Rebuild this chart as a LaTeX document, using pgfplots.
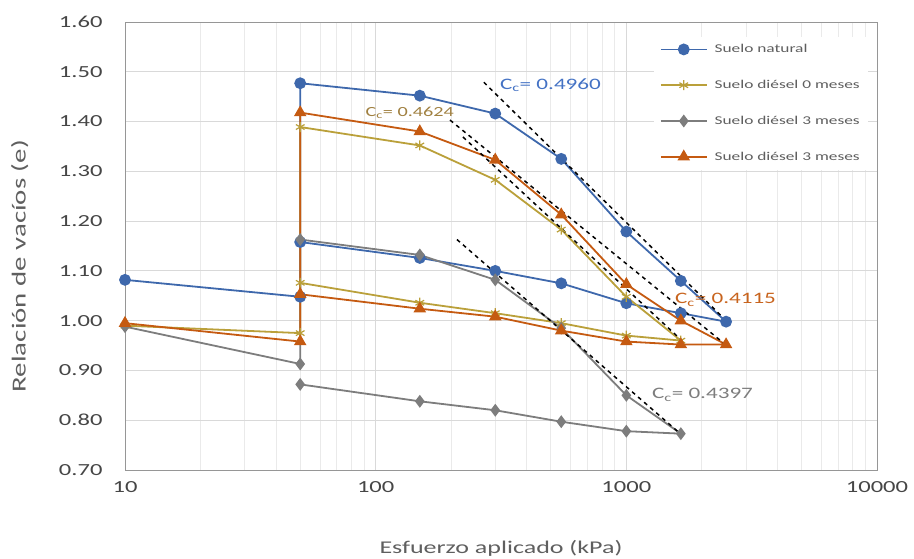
\documentclass[border=0pt]{standalone}
\usepackage{fontspec}
\setmainfont{Carlito}[FakeStretch=1.45]
\usepackage{pgfplots}
\pgfplotsset{compat=1.18}

\definecolor{natural}{RGB}{62,104,172}
\definecolor{dies0}{RGB}{186,160,58}
\definecolor{dies3a}{RGB}{125,125,125}
\definecolor{dies3b}{RGB}{197,90,17}
\definecolor{gridmaj}{RGB}{217,217,217}
\definecolor{gridmin}{RGB}{234,234,234}
\definecolor{axisgray}{RGB}{150,150,150}
\definecolor{labgray}{RGB}{95,95,95}
\definecolor{ticktext}{RGB}{70,70,70}
\definecolor{ccnat}{RGB}{68,114,196}
\definecolor{cc0}{RGB}{160,128,64}
\definecolor{cc3b}{RGB}{200,100,30}

\begin{document}
\begin{tikzpicture}
\useasboundingbox (-125bp,-89bp) rectangle (789bp,470bp);
\begin{axis}[
  scale only axis, width=752bp, height=448bp,
  xmode=log, xmin=10, xmax=10000, ymin=0.7, ymax=1.6,
  xtick={10,100,1000,10000}, xticklabels={10,100,1000,10000},
  minor xtick={20,30,40,50,60,70,80,90,200,300,400,500,600,700,800,900,2000,3000,4000,5000,6000,7000,8000,9000},
  ytick={0.7,0.8,0.9,1.0,1.1,1.2,1.3,1.4,1.5,1.6},
  yticklabels={0.70,0.80,0.90,1.00,1.10,1.20,1.30,1.40,1.50,1.60},
  grid=both,
  major grid style={gridmaj, line width=0.8bp},
  minor grid style={gridmin, line width=0.8bp},
  major tick length=0pt, minor tick length=0pt,
  axis line style={axisgray, line width=0.9bp},
  tick label style={font=\fontsize{17}{20}\selectfont, text=ticktext},
  xticklabel style={yshift=-8bp},
  yticklabel style={xshift=-19bp},
  xlabel={Esfuerzo aplicado (kPa)},
  ylabel={Relación de vacíos (e)},
  label style={font=\fontsize{18}{21}\selectfont, text=labgray},
  xlabel style={at={(axis description cs:0.5,-0.174)}, anchor=center},
  ylabel style={at={(axis description cs:-0.14,0.455)}, anchor=center,
    font=\fontsize{20}{23}\selectfont},
  legend style={at={(axis description cs:0.703,0.968)}, anchor=north west,
    draw=none, fill=white, font=\fontsize{12}{14}\selectfont, text=labgray,
    row sep=22bp, inner sep=6bp},
  legend cell align=left,
  legend image code/.code={\draw[mark repeat=2, mark phase=2]
    plot coordinates {(0bp,0bp) (23bp,0bp) (46bp,0bp)};
    \path (51bp,0bp);},
  every axis plot/.append style={line width=1.8bp},
]

% Suelo natural
\addplot[natural, mark=*, mark size=5bp, mark options={fill=natural}] coordinates {
  (10,1.082) (50,1.048) (50,1.477) (150,1.452) (300,1.416) (550,1.325)
  (1000,1.179) (1650,1.080) (2500,0.998) (1650,1.015) (1000,1.035)
  (550,1.075) (300,1.100) (150,1.126) (50,1.158)};
\addlegendentry{Suelo natural}

% Suelo diesel, 0 meses
\addplot[dies0, mark=asterisk, mark size=5bp, mark options={line width=1.2bp}] coordinates {
  (10,0.990) (50,0.975) (50,1.389) (150,1.352) (300,1.283) (550,1.183)
  (1000,1.048) (1650,0.960) (1000,0.970) (550,0.995) (300,1.015)
  (150,1.036) (50,1.076)};
\addlegendentry{Suelo diésel 0 meses}

% Suelo diesel, 3 meses (primera serie)
\addplot[dies3a, mark=diamond*, mark size=5bp, mark options={fill=dies3a}] coordinates {
  (10,0.988) (50,0.913) (50,1.163) (150,1.132) (300,1.082) (550,0.985)
  (1000,0.850) (1650,0.773) (1000,0.778) (550,0.797) (300,0.820)
  (150,0.838) (50,0.872)};
\addlegendentry{Suelo diésel 3 meses}

% Suelo diesel, 3 meses (segunda serie)
\addplot[dies3b, mark=triangle*, mark size=5.5bp, mark options={fill=dies3b}] coordinates {
  (10,0.995) (50,0.958) (50,1.418) (150,1.380) (300,1.323) (550,1.213)
  (1000,1.073) (1650,1.000) (2500,0.952) (1650,0.952) (1000,0.958)
  (550,0.980) (300,1.008) (150,1.024) (50,1.053)};
\addlegendentry{Suelo diésel 3 meses}

% Tangentes de la rama virgen (indice de compresion)
\addplot[black, line width=1.5bp, dash pattern=on 4bp off 4bp, forget plot] coordinates {(270,1.479) (2500,1.000)};
\addplot[black, line width=1.5bp, dash pattern=on 4bp off 4bp, forget plot] coordinates {(198,1.403) (2500,0.951)};
\addplot[black, line width=1.5bp, dash pattern=on 4bp off 4bp, forget plot] coordinates {(223,1.369) (1650,0.962)};
\addplot[black, line width=1.5bp, dash pattern=on 4bp off 4bp, forget plot] coordinates {(211,1.163) (1650,0.772)};

\begin{scope}[every node/.style={anchor=west, inner sep=0pt, font=\fontsize{16}{19}\selectfont}]
\node[text=ccnat] at (axis cs:313,1.473) {C\textsubscript{c}= 0.4960};
\node[text=cc0, font=\fontsize{14}{17}\selectfont] at (axis cs:91,1.417) {C\textsubscript{c}= 0.4624};
\node[text=cc3b] at (axis cs:1563,1.042) {C\textsubscript{c}= 0.4115};
\node[text=dies3a] at (axis cs:1265,0.851) {C\textsubscript{c}= 0.4397};
\end{scope}
\end{axis}
\end{tikzpicture}
\end{document}
